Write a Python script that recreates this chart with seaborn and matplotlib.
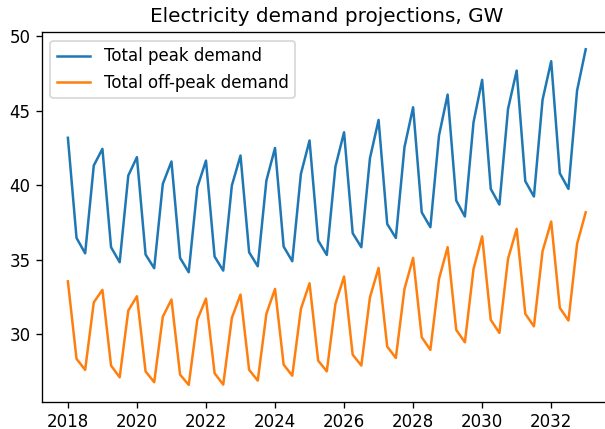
import numpy as np
import pandas as pd
import matplotlib
matplotlib.use("Agg")
import matplotlib.pyplot as plt
import seaborn as sns

# Quarterly time points (years)
years = np.arange(2018, 2033.01, 0.25)

peak_demand = [
    43.17, 36.45, 35.42, 41.31,
    42.43, 35.83, 34.82, 40.64,
    41.87, 35.34, 34.42, 40.08,
    41.58, 35.11, 34.15, 39.85,
    41.64, 35.20, 34.26, 39.97,
    41.98, 35.49, 34.55, 40.30,
    42.49, 35.87, 34.89, 40.75,
    42.99, 36.28, 35.31, 41.24,
    43.54, 36.77, 35.83, 41.80,
    44.37, 37.39, 36.45, 42.54,
    45.22, 38.17, 37.17, 43.32,
    46.07, 38.96, 37.89, 44.21,
    47.06, 39.74, 38.69, 45.11,
    47.68, 40.26, 39.23, 45.72,
    48.31, 40.79, 39.74, 46.34,
    49.11,
]

offpeak_demand = [
    33.54, 28.34, 27.60, 32.13,
    32.97, 27.89, 27.10, 31.58,
    32.54, 27.50, 26.77, 31.17,
    32.32, 27.28, 26.59, 30.97,
    32.38, 27.37, 26.61, 31.09,
    32.65, 27.60, 26.88, 31.36,
    33.03, 27.95, 27.21, 31.69,
    33.41, 28.22, 27.50, 32.03,
    33.86, 28.62, 27.89, 32.47,
    34.44, 29.16, 28.40, 33.03,
    35.11, 29.79, 28.94, 33.70,
    35.83, 30.28, 29.45, 34.37,
    36.56, 30.95, 30.08, 35.05,
    37.06, 31.36, 30.52, 35.56,
    37.55, 31.76, 30.91, 36.05,
    38.17,
]

series_labels = ["Total peak demand", "Total off-peak demand"]
title = "Electricity demand projections, GW"

df = pd.DataFrame({"year": years, "peak": peak_demand, "offpeak": offpeak_demand})

fig = plt.figure(figsize=(605 / 120, 429 / 120), dpi=120)
# axes extend slightly beyond the right edge (cropped, as in the reference)
ax = fig.add_axes([42 / 605, (429 - 401.7) / 429, 569.6 / 605, (401.7 - 32.5) / 429])

sns.lineplot(data=df, x="year", y="peak", ax=ax, color="#1f77b4", label=series_labels[0], linewidth=1.5)
sns.lineplot(data=df, x="year", y="offpeak", ax=ax, color="#ff7f0e", label=series_labels[1], linewidth=1.5)

ax.set_xlabel("")
ax.set_ylabel("")
ax.set_title(title, fontsize=12)
ax.set_xticks([2018, 2020, 2022, 2024, 2026, 2028, 2030, 2032])
ax.set_yticks([30, 35, 40, 45, 50])
ax.tick_params(labelsize=10)
ax.legend(loc="upper left", fontsize=10)

fig.savefig("out.png", dpi=120)
